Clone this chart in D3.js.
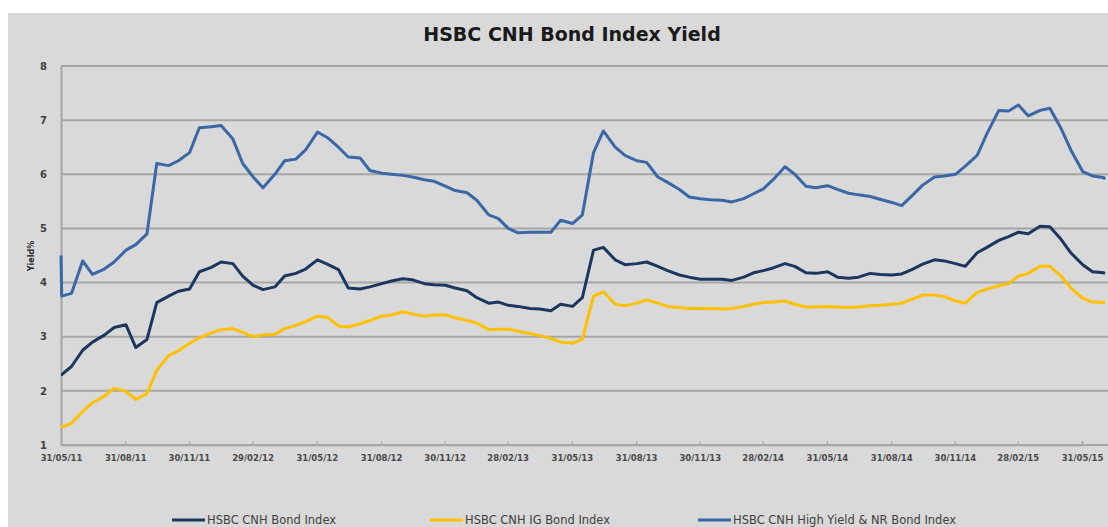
<!DOCTYPE html>
<html>
<head>
<meta charset="utf-8">
<script src="https://cdn.jsdelivr.net/npm/d3@7"></script>
<style>
  body { margin: 0; background: #ffffff; }
  .tick text { font-family: "DejaVu Sans", sans-serif; }
</style>
</head>
<body>
<div id="chart"></div>
<script>

// dates (semi-monthly readings)
var dates = [
  "2011-05-31","2011-06-01","2011-06-15","2011-07-01","2011-07-15","2011-08-01","2011-08-15","2011-09-01","2011-09-15",
  "2011-10-01","2011-10-15","2011-11-01","2011-11-15","2011-12-01","2011-12-15",
  "2012-01-01","2012-01-15","2012-02-01","2012-02-15","2012-03-01","2012-03-15","2012-04-01","2012-04-15",
  "2012-05-01","2012-05-15","2012-06-01","2012-06-15","2012-07-01","2012-07-15","2012-08-01","2012-08-15",
  "2012-09-01","2012-09-15","2012-10-01","2012-10-15","2012-11-01","2012-11-15","2012-12-01","2012-12-15",
  "2013-01-01","2013-01-15","2013-02-01","2013-02-15","2013-03-01","2013-03-15","2013-04-01","2013-04-15",
  "2013-05-01","2013-05-15","2013-06-01","2013-06-15","2013-07-01","2013-07-15","2013-08-01","2013-08-15",
  "2013-09-01","2013-09-15","2013-10-01","2013-10-15","2013-11-01","2013-11-15","2013-12-01","2013-12-15",
  "2014-01-01","2014-01-15","2014-02-01","2014-02-15","2014-03-01","2014-03-15","2014-04-01","2014-04-15",
  "2014-05-01","2014-05-15","2014-06-01","2014-06-15","2014-07-01","2014-07-15","2014-08-01","2014-08-15",
  "2014-09-01","2014-09-15","2014-10-01","2014-10-15","2014-11-01","2014-11-15","2014-12-01","2014-12-15",
  "2015-01-01","2015-01-15","2015-02-01","2015-02-15","2015-03-01","2015-03-15","2015-04-01","2015-04-15",
  "2015-05-01","2015-05-15","2015-06-01","2015-06-15","2015-07-01","2015-07-03"
];

var bondIndex = [
  2.30,2.30,2.45,2.75,2.90,3.03,3.17,3.22,2.80,
  2.95,3.63,3.75,3.84,3.88,4.20,
  4.28,4.38,4.35,4.12,3.95,3.87,3.92,4.12,
  4.17,4.25,4.42,4.34,4.24,3.90,3.88,3.92,
  3.98,4.03,4.07,4.05,3.98,3.96,3.95,3.90,
  3.85,3.72,3.62,3.64,3.58,3.56,3.52,3.51,
  3.48,3.60,3.56,3.72,4.60,4.65,4.42,4.33,
  4.35,4.38,4.30,4.22,4.14,4.10,4.06,4.06,
  4.06,4.04,4.10,4.18,4.22,4.27,4.35,4.30,
  4.18,4.17,4.20,4.10,4.08,4.10,4.17,4.15,
  4.14,4.16,4.25,4.34,4.42,4.40,4.35,4.30,
  4.55,4.65,4.78,4.85,4.93,4.90,5.04,5.03,
  4.80,4.55,4.33,4.20,4.18,4.17
];

var igBondIndex = [
  1.32,1.33,1.40,1.62,1.78,1.90,2.05,1.99,1.84,
  1.95,2.38,2.65,2.74,2.88,2.98,
  3.07,3.13,3.15,3.08,3.00,3.03,3.04,3.15,
  3.21,3.28,3.38,3.36,3.20,3.18,3.24,3.30,
  3.38,3.40,3.46,3.42,3.38,3.40,3.40,3.35,
  3.30,3.25,3.13,3.14,3.14,3.10,3.06,3.02,
  2.97,2.90,2.88,2.95,3.75,3.83,3.60,3.57,
  3.62,3.68,3.62,3.56,3.54,3.52,3.52,3.52,
  3.51,3.52,3.56,3.60,3.63,3.64,3.66,3.60,
  3.55,3.55,3.56,3.55,3.54,3.55,3.57,3.58,
  3.60,3.62,3.70,3.77,3.77,3.74,3.66,3.62,
  3.82,3.88,3.94,3.98,4.12,4.17,4.30,4.30,
  4.12,3.90,3.71,3.64,3.63,3.63
];

var hyBondIndex = [
  4.50,3.75,3.80,4.40,4.15,4.25,4.38,4.60,4.70,
  4.90,6.20,6.16,6.25,6.40,6.86,
  6.88,6.90,6.65,6.20,5.95,5.75,6.00,6.25,
  6.28,6.45,6.78,6.68,6.50,6.32,6.30,6.07,
  6.02,6.00,5.98,5.95,5.90,5.87,5.78,5.70,
  5.66,5.52,5.25,5.18,5.00,4.92,4.93,4.93,
  4.93,5.15,5.09,5.25,6.40,6.80,6.50,6.35,
  6.25,6.22,5.95,5.85,5.72,5.58,5.55,5.53,
  5.52,5.49,5.55,5.64,5.73,5.90,6.14,6.00,
  5.78,5.75,5.79,5.72,5.65,5.62,5.59,5.54,
  5.48,5.42,5.62,5.80,5.95,5.97,6.00,6.15,
  6.35,6.75,7.18,7.17,7.28,7.08,7.18,7.22,
  6.85,6.45,6.05,5.97,5.94,5.91
];

var tickDates = [
  "2011-05-31","2011-08-31","2011-11-30","2012-02-29","2012-05-31","2012-08-31","2012-11-30","2013-02-28",
  "2013-05-31","2013-08-31","2013-11-30","2014-02-28","2014-05-31","2014-08-31","2014-11-30","2015-02-28","2015-05-31"
];
var yTicks = [1, 2, 3, 4, 5, 6, 7, 8];

var seriesNames = ["HSBC CNH Bond Index", "HSBC CNH IG Bond Index", "HSBC CNH High Yield & NR Bond Index"];
var seriesColors = ["#1b3760", "#ffc000", "#3a67a5"];

var W = 1108, H = 527;
var margin = {top: 66, right: 0, bottom: 82, left: 61};
var width = 1047, height = 379;

var parse = d3.timeParse("%Y-%m-%d");

var x = d3.scaleTime()
    .domain([parse("2011-05-31"), parse("2015-05-31")])
    .range([0, 1021]);
var y = d3.scaleLinear().domain([1, 8]).range([height, 0]);

var svg = d3.select("#chart")
  .append("svg")
  .attr("width", W)
  .attr("height", H);

// grey chart background
svg.append("rect")
  .attr("x", 8).attr("y", 13)
  .attr("width", W - 8).attr("height", H - 13)
  .attr("fill", "#d9d9d9");

// title
svg.append("text")
  .attr("x", 572)
  .attr("y", 41)
  .attr("text-anchor", "middle")
  .style("font-family", "'DejaVu Sans', sans-serif")
  .style("font-weight", "bold")
  .style("font-size", "19px")
  .style("fill", "#1a1a1a")
  .text("HSBC CNH Bond Index Yield");

var g = svg.append("g")
  .attr("transform", "translate(" + margin.left + "," + margin.top + ")");

// horizontal gridlines
g.selectAll(".grid")
  .data(yTicks)
  .enter()
  .append("line")
  .attr("class", "grid")
  .attr("x1", 0)
  .attr("x2", width)
  .attr("y1", function(d) { return y(d); })
  .attr("y2", function(d) { return y(d); })
  .attr("stroke", "#a6a6a6")
  .attr("stroke-width", 2);

// y axis
var yAxis = g.append("g")
  .call(d3.axisLeft(y).tickValues(yTicks).tickSize(0).tickPadding(14).tickFormat(d3.format("d")));
yAxis.select(".domain").attr("stroke", "#a6a6a6").attr("stroke-width", 2);
yAxis.selectAll("text")
  .style("font-size", "10px")
  .style("font-weight", "bold")
  .style("fill", "#404040");

// x axis
var xAxis = g.append("g")
  .attr("transform", "translate(0," + height + ")")
  .call(d3.axisBottom(x)
    .tickValues(tickDates.map(parse))
    .tickSize(-4)
    .tickPadding(10)
    .tickFormat(d3.timeFormat("%d/%m/%y")));
xAxis.select(".domain").attr("stroke", "#a6a6a6").attr("stroke-width", 1.5);
xAxis.selectAll(".tick line").attr("stroke", "#a6a6a6");
xAxis.selectAll("text")
  .style("font-size", "8.5px")
  .style("font-weight", "bold")
  .style("fill", "#4a4a4a");

// y axis title
svg.append("text")
  .attr("transform", "translate(34,256) rotate(-90)")
  .attr("text-anchor", "middle")
  .style("font-family", "'DejaVu Sans', sans-serif")
  .style("font-size", "8px")
  .style("font-weight", "bold")
  .style("fill", "#262626")
  .text("Yield%");

// lines
var series = [bondIndex, igBondIndex, hyBondIndex];
var line = d3.line()
  .x(function(d) { return x(d.date); })
  .y(function(d) { return y(d.value); });

series.forEach(function(vals, i) {
  var pts = dates.map(function(d, j) { return {date: parse(d), value: vals[j]}; });
  g.append("path")
    .datum(pts)
    .attr("fill", "none")
    .attr("stroke", seriesColors[i])
    .attr("stroke-width", 3)
    .attr("stroke-linejoin", "round")
    .attr("d", line);
});

// legend
var legendX = [172, 430, 698];
var legend = svg.selectAll(".legend")
  .data(seriesNames)
  .enter()
  .append("g")
  .attr("class", "legend")
  .attr("transform", function(d, i) { return "translate(" + legendX[i] + ",520)"; });

legend.append("line")
  .attr("x1", 0).attr("x2", 33)
  .attr("y1", 0).attr("y2", 0)
  .attr("stroke", function(d, i) { return seriesColors[i]; })
  .attr("stroke-width", 3);

legend.append("text")
  .attr("x", 35)
  .attr("dy", ".35em")
  .style("font-family", "'DejaVu Sans', sans-serif")
  .style("font-size", "11.5px")
  .style("fill", "#404040")
  .text(function(d) { return d; });

</script>
</body>
</html>
